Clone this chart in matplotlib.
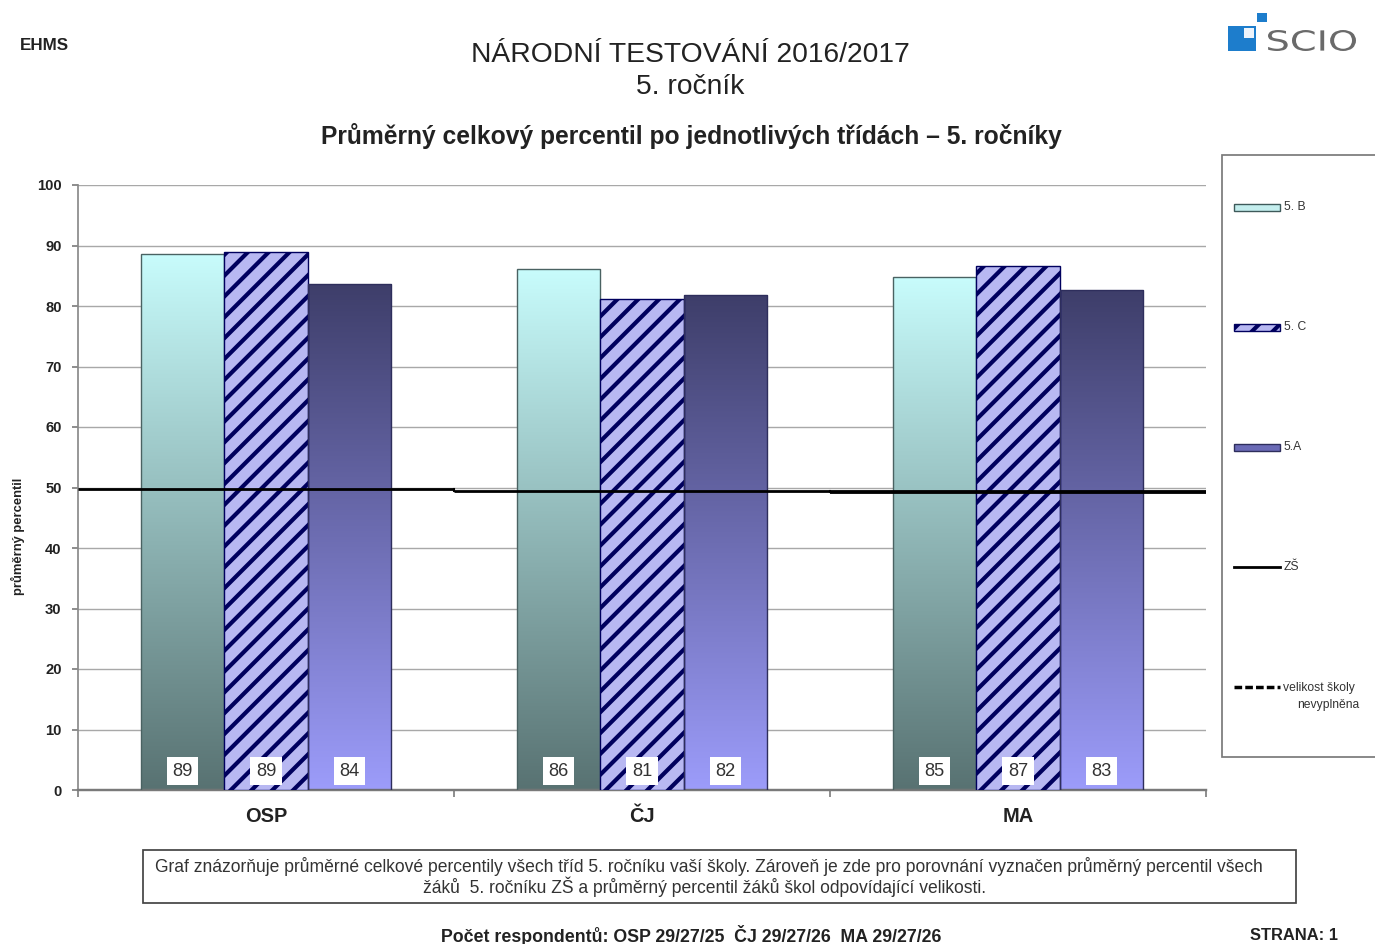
import numpy as np
import matplotlib
matplotlib.use("Agg")
import matplotlib.pyplot as plt
from matplotlib.patches import Rectangle, PathPatch
from matplotlib.textpath import TextPath
from matplotlib.font_manager import FontProperties
from matplotlib.transforms import Affine2D
from matplotlib.colors import to_rgb

# ---------------- data ----------------
categories = ["OSP", "ČJ", "MA"]
series_names = ["5. B", "5. C", "5.A"]
values_5b = [88.6, 86.1, 84.8]
values_5c = [88.9, 81.1, 86.6]
values_5a = [83.7, 81.8, 82.6]
zs_values = [49.8, 49.4, 49.2]
zs_name = "ZŠ"
size_name_1 = "velikost školy"
size_name_2 = "nevyplněna"
yticks = [0, 10, 20, 30, 40, 50, 60, 70, 80, 90, 100]

title_1 = "NÁRODNÍ TESTOVÁNÍ 2016/2017"
title_2 = "5. ročník"
subtitle = "Průměrný celkový percentil po jednotlivých třídách – 5. ročníky"
ylabel = "průměrný percentil"
school = "EHMS"
footer_1 = ("Graf znázorňuje průměrné celkové percentily všech tříd 5. ročníku vaší školy. "
            "Zároveň je zde pro porovnání vyznačen průměrný percentil všech")
footer_2 = "žáků  5. ročníku ZŠ a průměrný percentil žáků škol odpovídající velikosti."
respondents = "Počet respondentů: OSP 29/27/25  ČJ 29/27/26  MA 29/27/26"
page = "STRANA: 1"

# ---------------- style ----------------
plt.rcParams["font.family"] = ["Liberation Sans", "DejaVu Sans"]
plt.rcParams["hatch.linewidth"] = 2.4
DPI = 125
W, H = 1375, 944
fig = plt.figure(figsize=(W / DPI, H / DPI), dpi=DPI)
fig.patch.set_facecolor("white")

# overlay axes in pixel coordinates
ov = fig.add_axes([0, 0, 1, 1])
ov.set_xlim(0, W)
ov.set_ylim(H, 0)
ov.axis("off")

L, R, T, B = 78, 1206, 185, 790
ax = fig.add_axes([L / W, (H - B) / H, (R - L) / W, (B - T) / H])
ax.set_facecolor("none")

bw = 0.222
offsets = [-bw, 0.0, bw]
x = np.arange(len(categories))


def gradient_bar(xc, h, bottom_col, top_col, edge):
    rect = Rectangle((xc - bw / 2, 0), bw, h, facecolor="none", edgecolor=edge,
                     linewidth=0.8, zorder=3)
    ax.add_patch(rect)
    c0 = np.array(to_rgb(bottom_col))
    c1 = np.array(to_rgb(top_col))
    t = np.linspace(0, 1, 256)[:, None, None]
    img = c0[None, None, :] * (1 - t) + c1[None, None, :] * t
    im = ax.imshow(img, extent=[xc - bw / 2, xc + bw / 2, 0, h], origin="lower",
                   aspect="auto", zorder=2, interpolation="bilinear")
    im.set_clip_path(rect)


for i in range(len(categories)):
    gradient_bar(x[i] + offsets[0], values_5b[i], "#587272", "#c8fcfc", "#4a6262")
    ax.bar(x[i] + offsets[1], values_5c[i], width=bw, facecolor="#b8b8f2",
           edgecolor="#00005e", hatch="//", linewidth=0.8, zorder=3)
    gradient_bar(x[i] + offsets[2], values_5a[i], "#9c9cfa", "#3e3e6a", "#2e2e5c")

series = [values_5b, values_5c, values_5a]
for j, vals in enumerate(series):
    for i, v in enumerate(vals):
        ax.text(x[i] + offsets[j], 3.1, f"{v:.0f}", ha="center", va="center",
                fontsize=10.5, color="#333333", zorder=6,
                bbox=dict(boxstyle="square,pad=0.3", facecolor="white", edgecolor="none"))

# ZŠ step line
for i, v in enumerate(zs_values):
    ax.plot([x[i] - 0.5, x[i] + 0.5], [v, v], color="black",
            linewidth=1.6 if i < 2 else 2.2, zorder=5, solid_capstyle="butt")
for i in range(len(zs_values) - 1):
    ax.plot([x[i] + 0.5, x[i] + 0.5], [zs_values[i], zs_values[i + 1]], color="black",
            linewidth=1.2, zorder=5)

ax.set_xlim(-0.5, len(categories) - 0.5)
ax.set_ylim(0, 100)
ax.set_yticks(yticks)
ax.set_yticklabels([str(v) for v in yticks], fontsize=8.5, fontweight="bold", color="#222222")
ax.set_xticks(x)
ax.set_xticklabels(categories, fontsize=11.5, fontweight="bold", color="#222222")
ax.set_xticks([-0.5, 0.5, 1.5, 2.5], minor=True)
ax.tick_params(axis="x", which="major", length=0, pad=10)
ax.tick_params(axis="x", which="minor", length=4, color="#808080", width=1)
ax.tick_params(axis="y", length=3.5, color="#808080", width=1, pad=6)
ax.yaxis.grid(True, color="#a8a8a8", linewidth=0.8, zorder=0)
ax.set_axisbelow(True)
for s in ["top", "right"]:
    ax.spines[s].set_visible(False)
ax.spines["left"].set_color("#8a8a8a")
ax.spines["left"].set_linewidth(1.0)
ax.spines["bottom"].set_color("#7a7a7a")
ax.spines["bottom"].set_linewidth(1.4)
ax.set_ylabel(ylabel, fontsize=7.5, fontweight="bold", color="#222222", labelpad=14)
ax.yaxis.set_label_coords(-53 / (R - L), 0.42)

# ---------------- titles ----------------
ov.text(690, 55, title_1, ha="center", va="center", fontsize=16.3, color="#222222")
ov.text(690, 87, title_2, ha="center", va="center", fontsize=16.3, color="#222222")
ov.text(691, 136, subtitle, ha="center", va="center", fontsize=14.2, fontweight="bold",
        color="#222222")
ov.text(20, 45, school, ha="left", va="center", fontsize=9.8, fontweight="bold", color="#222222")

# logo
ov.add_patch(Rectangle((1228, 26), 28, 25, facecolor="#1d7dcc", edgecolor="none"))
ov.add_patch(Rectangle((1244, 28), 10, 10, facecolor="#eef4fb", edgecolor="none"))
ov.add_patch(Rectangle((1257, 13), 10, 9, facecolor="#1d7dcc", edgecolor="none"))
tp = TextPath((0, 0), "SCIO", size=1, prop=FontProperties(family="DejaVu Sans"))
bb = tp.get_extents()
tr = Affine2D().translate(-bb.x0, -bb.y0).scale(88 / bb.width, -21 / bb.height).translate(1268, 51)
ov.add_patch(PathPatch(tr.transform_path(tp), facecolor="#6a6a6a", edgecolor="none"))

# ---------------- legend ----------------
ov.add_patch(Rectangle((1222, 155), 170, 602, facecolor="white", edgecolor="#7a7a7a",
                       linewidth=1.0, clip_on=False, zorder=1))
lx0, lx1 = 1234, 1280
leg_y = [207, 327, 447, 567, 687]
ov.add_patch(Rectangle((lx0, leg_y[0] - 3.5), lx1 - lx0, 7, facecolor="#c4eeee",
                       edgecolor="#3e5a5a", linewidth=0.8, zorder=2))
ov.add_patch(Rectangle((lx0, leg_y[1] - 3.5), lx1 - lx0, 7, facecolor="#b8b8f2",
                       edgecolor="#00005e", hatch="//", linewidth=0.8, zorder=2))
ov.add_patch(Rectangle((lx0, leg_y[2] - 3.5), lx1 - lx0, 7, facecolor="#6a6ab6",
                       edgecolor="#2e2e5c", linewidth=0.8, zorder=2))
ov.plot([lx0, lx1], [leg_y[3], leg_y[3]], color="black", linewidth=1.6, zorder=2)
ov.plot([lx0, lx1], [leg_y[4], leg_y[4]], color="black", linewidth=2.0,
        linestyle=(0, (2.2, 0.9)), zorder=2)
leg_labels = series_names + [zs_name]
for yy, lab in zip(leg_y[:4], leg_labels):
    ov.text(lx1 + 4, yy, lab, ha="left", va="center", fontsize=7, color="#333333", zorder=3)
ov.text(lx1 + 3, leg_y[4] + 1, size_name_1, ha="left", va="center", fontsize=7,
        color="#333333", zorder=3)
ov.text(1328, leg_y[4] + 18, size_name_2, ha="center", va="center", fontsize=7,
        color="#333333", zorder=3)

# ---------------- footer ----------------
ov.add_patch(Rectangle((143, 850), 1153, 53, facecolor="white", edgecolor="#444444",
                       linewidth=1.0))
ov.text(709, 867, footer_1, ha="center", va="center", fontsize=10.1,
        color="#333333")
ov.text(705, 887, footer_2, ha="center", va="center", fontsize=10.1,
        color="#333333")
ov.text(691, 935, respondents, ha="center", va="center", fontsize=10.2, fontweight="bold",
        color="#222222")
ov.text(1294, 935, page, ha="center", va="center", fontsize=9.5, fontweight="bold",
        color="#222222")

fig.savefig("out.png", dpi=DPI, facecolor="white")
